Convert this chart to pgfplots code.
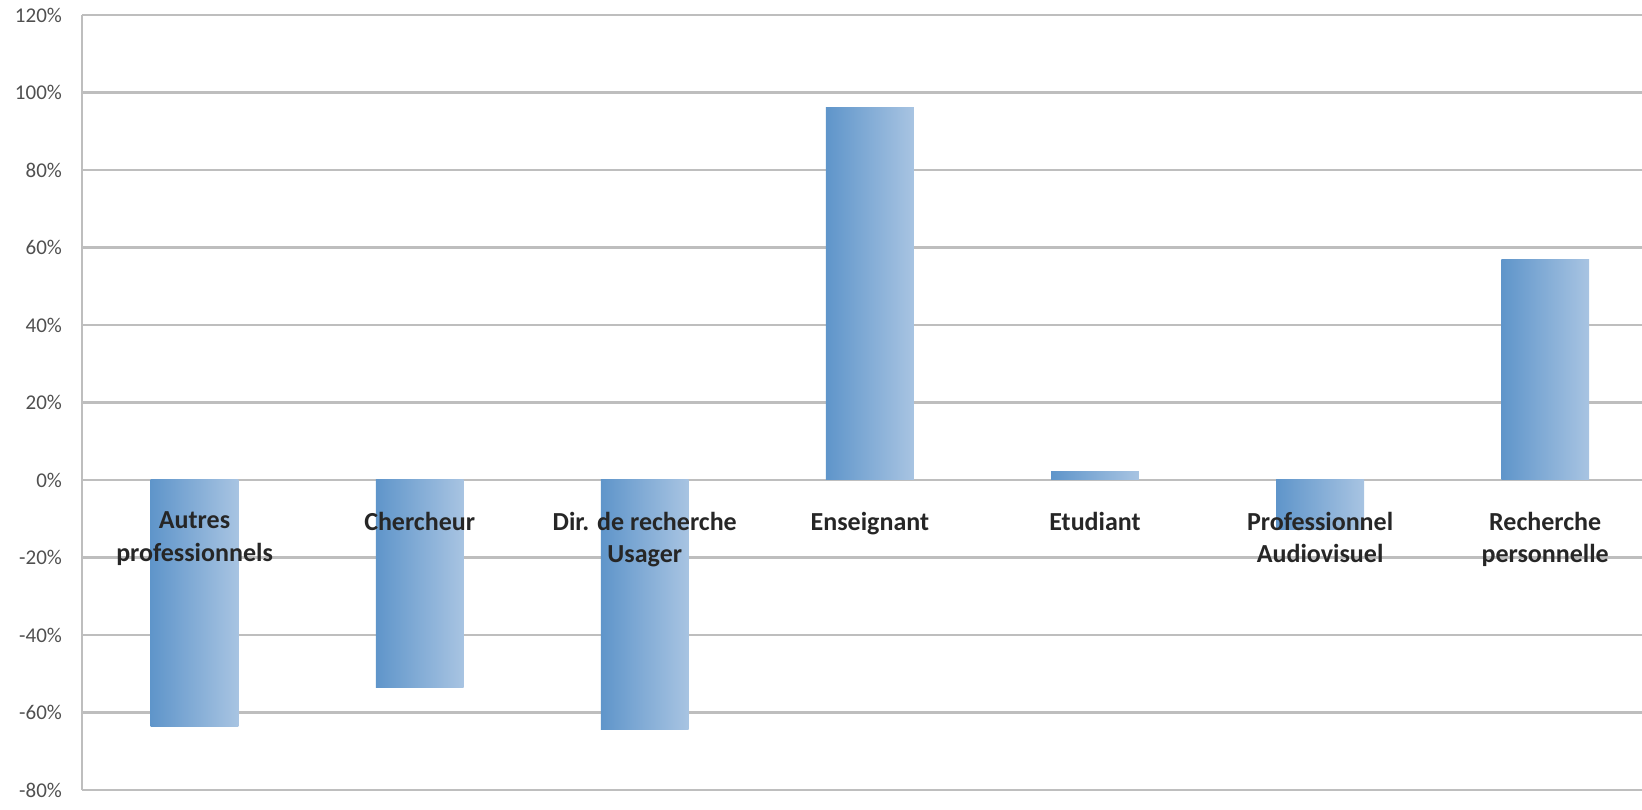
\documentclass[border=0pt]{standalone}
\usepackage{fontspec}
\setmainfont{Carlito}
\usepackage{pgfplots}
\pgfplotsset{compat=1.18}
\definecolor{barL}{RGB}{95,149,202}
\definecolor{barR}{RGB}{168,196,226}
\definecolor{gridgray}{RGB}{190,190,190}
\definecolor{ticktext}{RGB}{80,80,80}
\pgfplotsset{
    layers/labelsontop/.define layer set={
        axis background,axis grid,axis ticks,axis lines,pre main,main,
        axis tick labels,axis descriptions,axis foreground}{/pgfplots/layers/standard},
    gradbar/.style={ybar, bar width=0.39, bar shift=0pt, draw=none, left color=barL, right color=barR},
}
\begin{document}
\begin{tikzpicture}
\begin{axis}[
    set layers=labelsontop,
    scale only axis,
    width=780pt, height=387.5pt,
    xmin=-0.5, xmax=6.43,
    ymin=-80, ymax=120,
    ytick={-80,-60,...,120},
    yticklabel={\pgfmathprintnumber{\tick}\%},
    /pgf/number format/assume math mode=true,
    axis x line*=middle, axis y line*=left,
    axis line style={draw=gridgray, line width=1.1pt, -},
    ymajorgrids=true,
    grid style={draw=gridgray, line width=1.1pt},
    major tick length=0pt,
    xtick={0,...,6},
    xticklabels={{Autres\\professionnels},Chercheur,{Dir. de recherche\\Usager},Enseignant,Etudiant,{Professionnel\\Audiovisuel},{Recherche\\personnelle}},
    xticklabel style={align=center, font=\bfseries\fontsize{13}{16.3}\selectfont, text=black!85, yshift=-12.5pt},
    yticklabel style={font=\fontsize{10.5}{12}\selectfont, text=ticktext, xshift=-6.5pt},
]
\addplot[gradbar] coordinates {(0,-63.5)};
\addplot[gradbar] coordinates {(1,-53.5)};
\addplot[gradbar] coordinates {(2,-64.5)};
\addplot[gradbar] coordinates {(3,96)};
\addplot[gradbar] coordinates {(4,2.1)};
\addplot[gradbar] coordinates {(5,-12.8)};
\addplot[gradbar] coordinates {(6,56.8)};
\end{axis}
\pgfresetboundingbox
\path[use as bounding box] ([shift={(-41pt,-9.5pt)}]current axis.south west) rectangle ([shift={(0pt,7.5pt)}]current axis.north east);
\end{tikzpicture}
\end{document}
